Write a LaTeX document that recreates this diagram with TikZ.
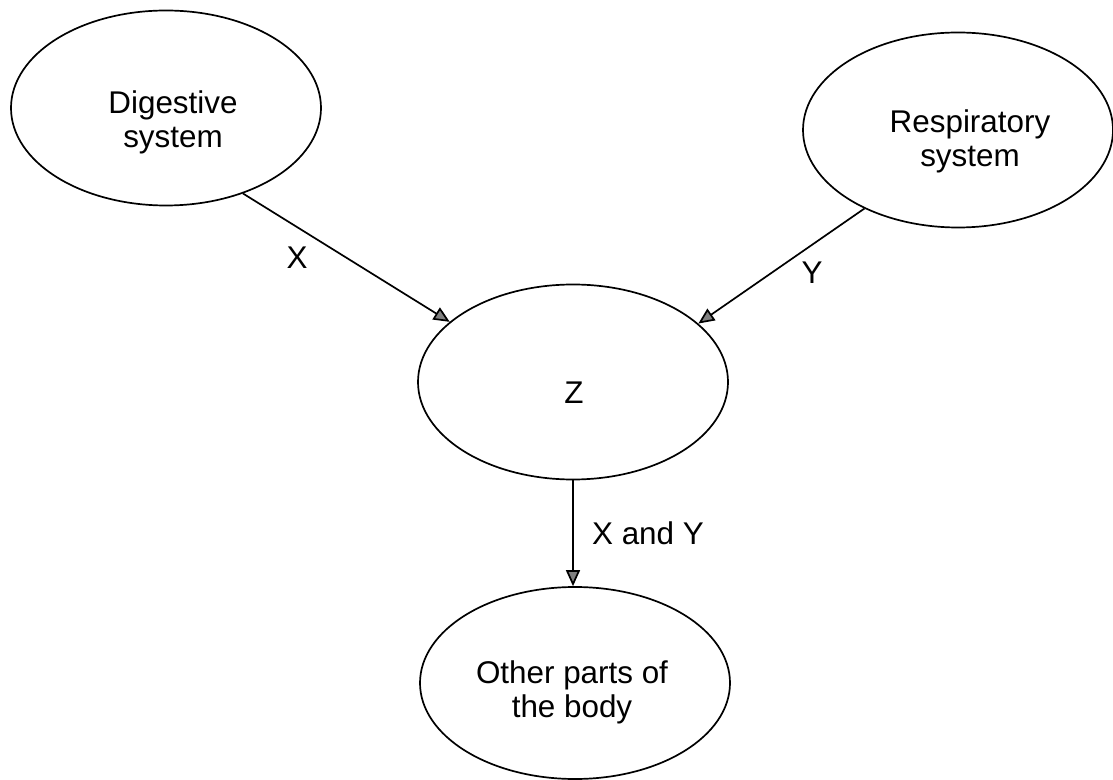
\documentclass[tikz,border=0pt]{standalone}
\usepackage{fontspec}
\setmainfont{Liberation Sans}
\usetikzlibrary{shapes.geometric,arrows.meta}

\tikzset{every picture/.style={line width=0.85pt}}
\tikzset{
  organ/.style={ellipse,draw,inner sep=0pt,minimum width=155pt,minimum height=97.5pt},
  organtext/.style={inner sep=0pt,align=center,font=\fontsize{15.7}{17}\selectfont},
  flow/.style={-{Triangle[length=8pt,width=7pt,fill=gray]}},
}

\begin{document}
\begin{tikzpicture}[x=0.5pt,y=0.5pt,yscale=-1,xscale=1]
\useasboundingbox (0,0) rectangle (1113,780);

%Shape: Ellipse [digestive]
\node [organ] (dig) at (166,108) {};
%Shape: Ellipse [respiratory]
\node [organ] (resp) at (958,130) {};
%Shape: Ellipse [Z]
\node [organ] (zee) at (573,382) {};
%Shape: Ellipse [other parts]
\node [organ,minimum height=96pt] (body) at (575,683) {};

% Text Node
\node [organtext] (digtext) at (173,122) {Digestive\\system};
% Text Node
\node [organtext] (resptext) at (970,141) {Respiratory\\system};
% Text Node
\node [organtext] (zeetext) at (574,393) {Z};
% Text Node
\node [organtext] (bodytext) at (572,692) {Other parts of\\the body};

%Straight Lines [X]
\draw [flow] (dig.-48.9) -- (zee.154.7);
%Straight Lines [Y]
\draw [flow] (resp.220) -- (zee.25.3);
%Straight Lines [X and Y]
\draw [flow] (zee.south) -- (zee.south |- body.north);

% Text Node
\node [organtext] (xlab) at (297,258) {X};
% Text Node
\node [organtext] (ylab) at (812,273) {Y};
% Text Node
\node [organtext] (xylab) at (648,533) {X and Y};

\end{tikzpicture}
\end{document}
